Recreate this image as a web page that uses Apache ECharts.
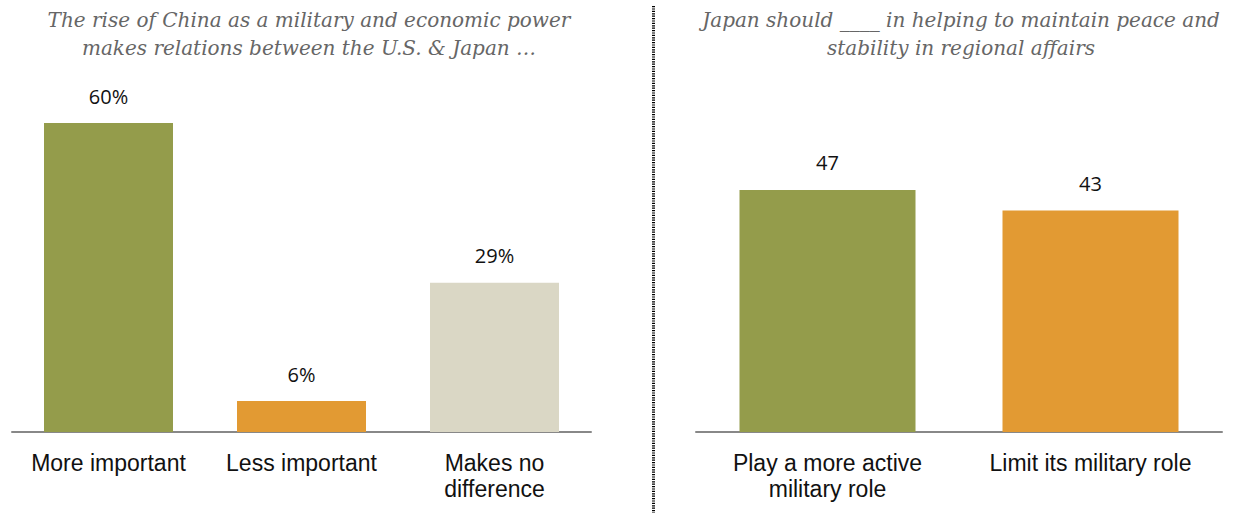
<!DOCTYPE html>
<html>
<head>
<meta charset="utf-8">
<script src="https://cdn.jsdelivr.net/npm/echarts@6/dist/echarts.min.js"></script>
<style>
html,body{margin:0;padding:0;background:#fff;}
#chart{width:1244px;height:513px;}
</style>
</head>
<body>
<div id="chart"></div>
<script>
// Left panel
const leftTitle = "The rise of China as a military and economic power\nmakes relations between the U.S. & Japan \u2026";
const leftCategories = ["More important", "Less important", "Makes no\ndifference"];
const leftValues = [60, 6, 29];
const leftColors = ["#949c4b", "#e29a33", "#dad7c5"];

// Right panel
const rightTitle = "Japan should ____ in helping to maintain peace and\nstability in regional affairs";
const rightCategories = ["Play a more active\nmilitary role", "Limit its military role"];
const rightValues = [47, 43];
const rightColors = ["#949c4b", "#e29a33"];

const chart = echarts.init(document.getElementById('chart'), null, {renderer: 'svg'});

const catFont = '"Liberation Sans Narrow", "Liberation Sans", Arial, sans-serif';
const valFont = '"Open Sans", "Liberation Sans", sans-serif';
const titleFont = '"DejaVu Serif", Georgia, serif';

function xAxisFor(idx, cats) {
  return {
    type: 'category', gridIndex: idx, data: cats,
    axisLine: {show: true, lineStyle: {color: '#888888', width: 2}},
    axisTick: {show: false},
    axisLabel: {color: '#111', fontFamily: catFont, fontSize: 23, lineHeight: 26, margin: 18, interval: 0}
  };
}
function yAxisFor(idx) {
  return {type: 'value', gridIndex: idx, min: 0, max: 60, show: false, splitLine: {show: false}};
}
function seriesFor(idx, vals, colors, suffix, bw) {
  return {
    type: 'bar', xAxisIndex: idx, yAxisIndex: idx, barWidth: bw,
    data: vals.map((v, i) => ({value: v, itemStyle: {color: colors[i]}})),
    label: {show: true, position: 'top', distance: 17, color: '#111', fontFamily: valFont, fontSize: 20,
      formatter: p => p.value + suffix},
    silent: true, animation: false
  };
}

chart.setOption({
  animation: false,
  grid: [
    {left: 12, width: 579, top: 123, bottom: 81},
    {left: 696, width: 526, top: 123, bottom: 81}
  ],
  xAxis: [xAxisFor(0, leftCategories), xAxisFor(1, rightCategories)],
  yAxis: [yAxisFor(0), yAxisFor(1)],
  series: [
    seriesFor(0, leftValues, leftColors, '%', 129),
    seriesFor(1, rightValues, rightColors, '', 176)
  ],
  graphic: [
    {type: 'text', x: 309, y: 6, style: {text: leftTitle, fill: '#666', font: 'italic 20px ' + titleFont, textAlign: 'center', lineHeight: 28}},
    {type: 'text', x: 961, y: 6, style: {text: rightTitle, fill: '#666', font: 'italic 20px ' + titleFont, textAlign: 'center', lineHeight: 28}},
    {type: 'line', shape: {x1: 653.5, y1: 6, x2: 653.5, y2: 513}, style: {stroke: '#000', lineWidth: 3, lineDash: [1.2, 1.2]}}
  ]
});
</script>
</body>
</html>
